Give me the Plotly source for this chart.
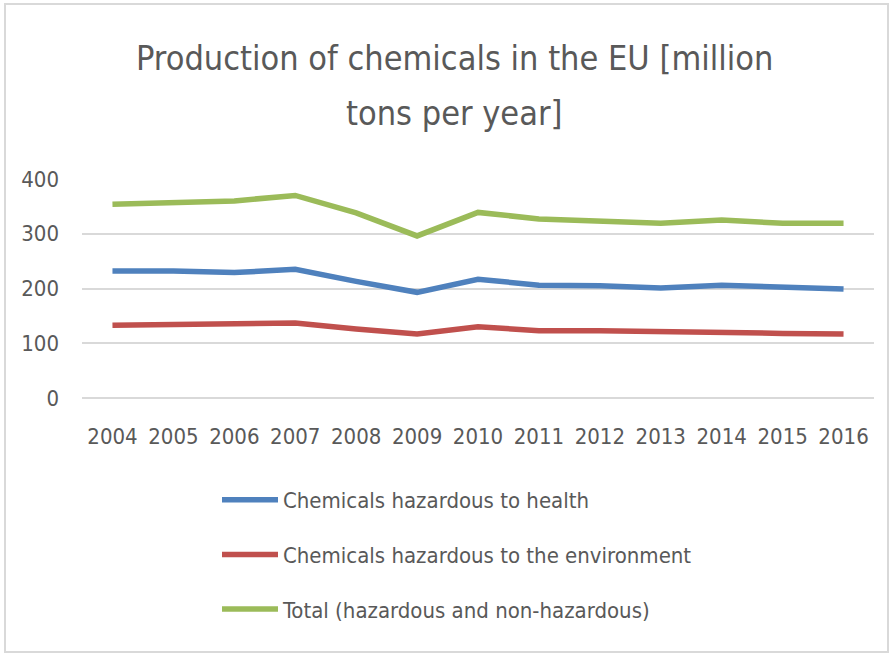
import plotly.graph_objects as go

years = ["2004", "2005", "2006", "2007", "2008", "2009", "2010",
         "2011", "2012", "2013", "2014", "2015", "2016"]
health = [232, 232, 229, 235, 213, 193, 217, 206, 205, 201, 206, 202, 199]
environment = [133, 134, 136, 137, 126, 117, 130, 123, 123, 121, 118, 118, 117]
total = [354, 356, 360, 370, 338, 296, 339, 327, 323, 319, 325, 319, 319]

names = ["Chemicals hazardous to health",
         "Chemicals hazardous to the environment",
         "Total (hazardous and non-hazardous)"]
colors = ["#4F81BD", "#C0504D", "#9BBB59"]
title_lines = ["Production of chemicals in the EU [million", "tons per year]"]

FONT = "DejaVu Sans Condensed, sans-serif"
GREY = "#595959"

W, H = 894, 653
L, R, T, B = 82, 20, 179, 255
pw, ph = W - L - R, H - T - B

def px_x(x):
    return (x - L) / pw

def px_y(y):
    return (H - B - y) / ph

fig = go.Figure()
for i, (name, vals, col) in enumerate(zip(names, [health, environment, total], colors)):
    fig.add_trace(go.Scatter(
        x=years, y=vals, name=name, mode="lines",
        line=dict(color=col, width=5.5),
        legendgroup=str(i),
    ))

annotations = []
for line, yp in zip(title_lines, [58, 113]):
    annotations.append(dict(
        text=line, xref="paper", yref="paper", x=px_x(454), y=px_y(yp),
        xanchor="center", yanchor="middle", showarrow=False,
        font=dict(family=FONT, size=34, color=GREY)))

fig.update_layout(
    width=W, height=H,
    margin=dict(l=L, r=R, t=T, b=B),
    paper_bgcolor="white", plot_bgcolor="white",
    font=dict(family=FONT, color=GREY),
    showlegend=True,
    legend=dict(
        x=px_x(217), y=px_y(479), xanchor="left", yanchor="top",
        font=dict(family=FONT, size=22, color=GREY),
        traceorder="grouped", tracegroupgap=23,
        itemwidth=56, bgcolor="rgba(0,0,0,0)",
    ),
    annotations=annotations,
    shapes=[dict(type="rect", xref="paper", yref="paper",
                 x0=px_x(5), x1=px_x(888), y0=px_y(652), y1=px_y(4),
                 line=dict(color="#D9D9D9", width=2), fillcolor="rgba(0,0,0,0)",
                 layer="below")],
)
fig.update_xaxes(
    type="category", range=[-0.5, 12.5], showgrid=False, zeroline=False,
    showline=False, ticks="", tickfont=dict(family=FONT, size=22, color=GREY),
    ticklabelstandoff=23,
)
fig.update_yaxes(
    range=[0, 400], dtick=100, showgrid=True, gridcolor="#D9D9D9", gridwidth=1.5,
    zeroline=True, zerolinecolor="#D9D9D9", zerolinewidth=1.5, showline=False,
    ticks="", tickfont=dict(family=FONT, size=22, color=GREY),
    ticklabelstandoff=22,
)

fig.write_html("out.html", config={"displayModeBar": False},
               post_script="document.body.style.margin='0';document.body.style.padding='0';")
